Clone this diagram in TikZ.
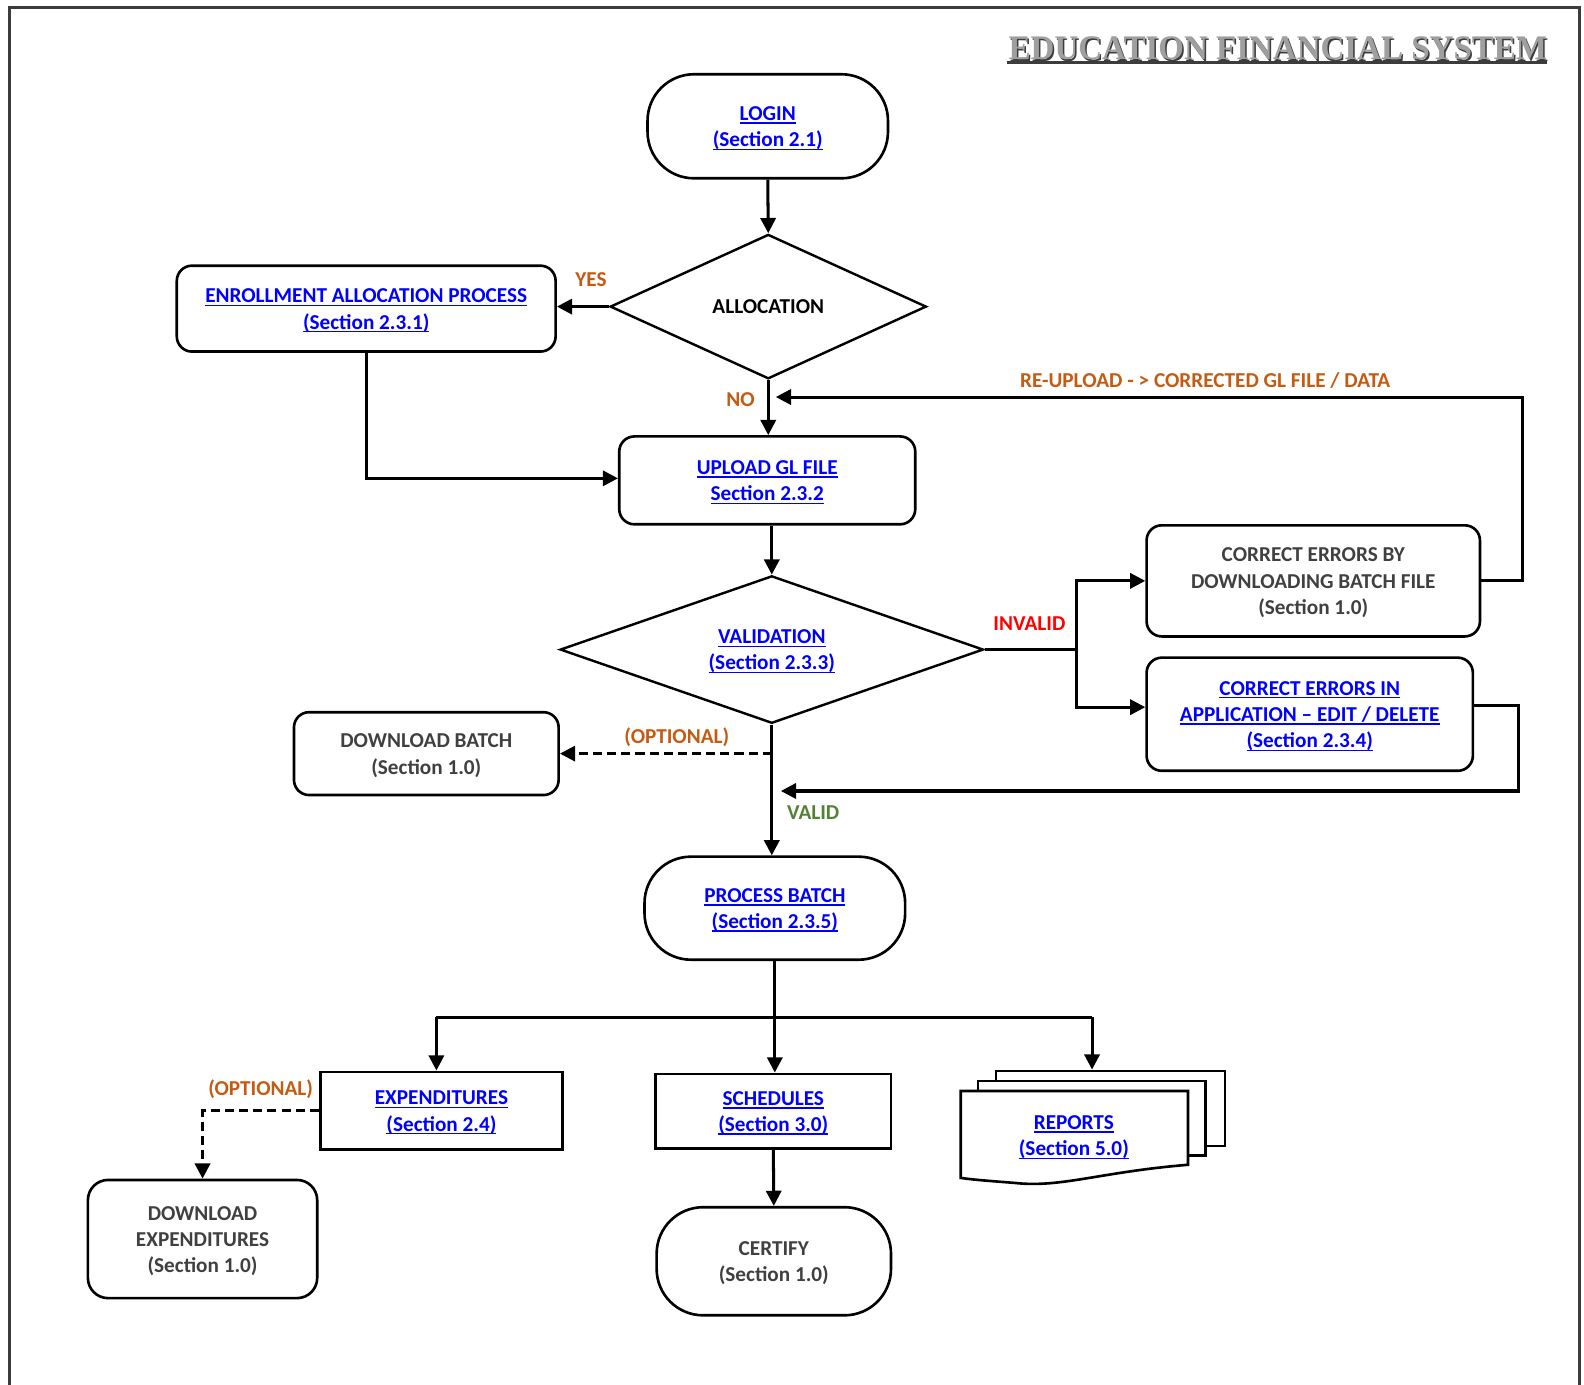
\documentclass[tikz,border=0pt]{standalone}
\usepackage{fontspec}
\usepackage{graphicx}
\setmainfont{Carlito}
\newfontfamily\titlefont{Liberation Serif}
\usetikzlibrary{shapes.geometric,arrows.meta,calc}
\definecolor{lnk}{HTML}{0000FF}
\definecolor{org}{HTML}{C55A11}
\definecolor{grn}{HTML}{538135}
\definecolor{gtx}{HTML}{404040}
\definecolor{frm}{HTML}{3C3C3C}
\newlength\lkw
\newcommand\st{\rule[-2.8pt]{0pt}{12.8pt}}
\newcommand\lk[1]{\st\textcolor{lnk}{\settowidth\lkw{#1}\rlap{\smash{\rule[-1.6pt]{\lkw}{0.7pt}}}#1}}
\begin{document}
\begin{tikzpicture}[x=0.5pt,y=-0.5pt,
  every node/.style={font=\fontsize{10.5pt}{13pt}\selectfont\bfseries, inner sep=0pt},
  rbox/.style={draw, line width=1.3pt, rounded corners=7.5pt, align=center, fill=white},
  stad/.style={rbox, rounded corners=23pt},
  sbox/.style={draw, line width=1.3pt, align=center, fill=white},
  dia/.style={draw, diamond, aspect=2.8, line width=1.2pt, align=center},
  conn/.style={line width=1.5pt, -{Triangle[length=7.5pt,width=7.5pt]}},
  dconn/.style={conn, dash pattern=on 4.5pt off 2.5pt},
  plain/.style={line width=1.5pt},
  lab/.style={text=org}
]
\useasboundingbox (0,0) rectangle (1568,1371);
% frame
\draw[frm, line width=1.5pt] (9,1371) -- (9,7) -- (1564,7) -- (1564,1371);
% title
\node[anchor=base, text=frm] (titleshadow) at (1266.5,60.5) {\resizebox{266.5pt}{11.3pt}{\titlefont EDUCATION FINANCIAL SYSTEM}};
\node[anchor=base, text=gray!75] (title) at (1265,59) {\resizebox{266.5pt}{11.3pt}{\titlefont EDUCATION FINANCIAL SYSTEM}};
\draw[frm, line width=1.5pt] (997,62) -- (1531,62);

% nodes
\node[stad, minimum width=119pt, minimum height=51.5pt] (login) at (760,125) {\lk{LOGIN}\\\lk{(Section 2.1)}};
\node[dia, minimum width=156.5pt, minimum height=71.5pt] (alloc) at (760.5,303.5) {\st ALLOCATION};
\node[rbox, minimum width=187.5pt, minimum height=42.5pt] (enroll) at (362.5,305.5) {\lk{ENROLLMENT ALLOCATION PROCESS}\\\lk{(Section 2.3.1)}};
\node[rbox, minimum width=146.5pt, minimum height=43.5pt] (upload) at (759.5,475.5) {\lk{UPLOAD GL FILE}\\\lk{Section 2.3.2}};
\node[dia, minimum width=209.5pt, minimum height=73pt] (valid) at (764,643) {\lk{VALIDATION}\\\lk{(Section 2.3.3)}};
\node[rbox, text=gtx, minimum width=165pt, minimum height=55pt] (corrby) at (1300,575) {\st CORRECT ERRORS BY\\\st DOWNLOADING BATCH FILE\\\st (Section 1.0)};
\node[rbox, minimum width=161.5pt, minimum height=56pt] (corrin) at (1296.5,707) {\lk{CORRECT ERRORS IN}\\\lk{APPLICATION -- EDIT / DELETE}\\\lk{(Section 2.3.4)}};
\node[rbox, text=gtx, minimum width=131pt, minimum height=41pt] (dlbatch) at (422,746) {\st DOWNLOAD BATCH\\\st (Section 1.0)};
\node[stad, minimum width=129pt, minimum height=51pt] (process) at (767,899) {\lk{PROCESS BATCH}\\\lk{(Section 2.3.5)}};
\node[sbox, minimum width=120pt, minimum height=38.5pt] (expend) at (437,1099.5) {\lk{EXPENDITURES}\\\lk{(Section 2.4)}};
\node[sbox, minimum width=116.5pt, minimum height=37pt] (sched) at (765.5,1100) {\lk{SCHEDULES}\\\lk{(Section 3.0)}};
\node[rbox, text=gtx, rounded corners=10pt, minimum width=113.5pt, minimum height=58.5pt] (dlexp) at (200.5,1226.5) {\st DOWNLOAD\\\st EXPENDITURES\\\st (Section 1.0)};
\node[stad, text=gtx, minimum width=116pt, minimum height=53.5pt] (certify) at (766,1248.5) {\st CERTIFY\\\st (Section 1.0)};
% reports (multi-document)
\node[sbox, minimum width=113.3pt, minimum height=37.25pt] (rep3) at (1099.3,1097.3) {};
\node[sbox, minimum width=112.75pt, minimum height=37pt] (rep2) at (1080.75,1107) {};
\draw[line width=1.3pt, fill=white] (951,1080) -- (1176,1080) -- (1176,1153)
  .. controls (1090,1160) and (1050,1176) .. (1005,1171)
  .. controls (980,1169) and (965,1168) .. (951,1166) -- cycle;
\node[align=center] (reports) at (1063,1124) {\lk{REPORTS}\\\lk{(Section 5.0)}};

% labels
\node[lab] (lyes) at (585,276) {\st YES};
\node[lab] (lno) at (733,395) {\st NO};
\node[text=red] (linv) at (1019,617) {\st INVALID};
\node[lab] (lre) at (1193,376) {\st RE-UPLOAD - > CORRECTED GL FILE / DATA};
\node[lab] (lopt1) at (670,729) {\st (OPTIONAL)};
\node[text=grn] (lval) at (805,804) {\st VALID};
\node[lab] (lopt2) at (258,1077) {\st (OPTIONAL)};

% connectors
\draw[conn] (login.south) -- (alloc.north);
\draw[conn] (alloc.west) -- (alloc.west -| enroll.east);
\draw[conn] (alloc.south) -- (upload.north -| alloc.south);
\draw[conn] (enroll.south) |- ([yshift=1pt]upload.west);
\draw[conn] (upload.south -| valid.north) -- (valid.north);
% invalid branch
\coordinate (jv) at (1066,643);
\draw[plain] (valid.east) -- (jv);
\draw[conn] (jv) |- (corrby.west);
\draw[conn] (jv) |- ([yshift=3.5pt]corrin.west);
% re-upload loop
\coordinate (rx) at (1507,393);
\coordinate (reupend) at (768,393);
\draw[conn] (corrby.east) -| (rx) -- (reupend);
% corrected in app loop
\coordinate (vx) at (1503,783);
\coordinate (validend) at (773,783);
\draw[conn] ([yshift=4.25pt]corrin.east) -| (vx) -- (validend);
% valid to process
\draw[conn] (valid.south) -- (process.north -| valid.south);
% optional download batch
\draw[dconn] (valid.south |- dlbatch.east) -- (dlbatch.east);
% bus
\coordinate (bus) at (767,1007);
\coordinate (busl) at (432,1007);
\coordinate (busr) at (1081,1007);
\draw[plain] (process.south) -- (bus);
\draw[plain] (busl) -- (busr);
\draw[conn] (busl) -- (busl |- expend.north);
\draw[conn] (bus) -- (bus |- sched.north);
\draw[conn] (busr) -- (busr |- rep3.north);
\draw[conn] (sched.south) -- (certify.north);
\draw[dconn] (expend.west) -| (dlexp.north);
\end{tikzpicture}
\end{document}
